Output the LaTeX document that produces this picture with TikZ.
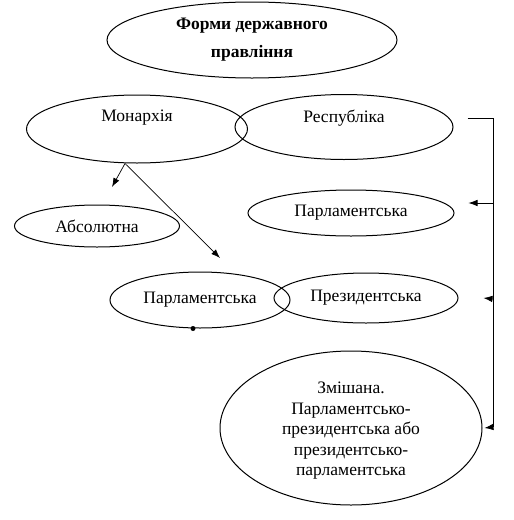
\documentclass[tikz,border=0pt]{standalone}
\usepackage{fontspec}
\setmainfont{Liberation Serif}
\usetikzlibrary{arrows.meta,shapes.geometric}

\begin{document}
\begin{tikzpicture}[x=1pt,y=-1pt,
  every node/.style={font=\fontsize{17.5}{20.5}\selectfont},
  oval/.style={ellipse, draw, line width=1pt, inner sep=0pt},
  link/.style={line width=0.7pt},
  arr/.style={link, -{Latex[length=9pt,width=6.5pt]}}]
\useasboundingbox (0,0) rectangle (514,520);
\node[oval, minimum width=290, minimum height=76, align=center,
  font=\fontsize{17.5}{28}\selectfont\bfseries] (forms) at (252,40) {Форми державного\\правління};
\node[oval, minimum width=221, minimum height=68, label={[yshift=11pt]center:Монархія}] (mon) at (137,129) {};
\node[oval, minimum width=218, minimum height=65, label={[yshift=9pt]center:Республіка}] (resp) at (344,127) {};
\node[oval, minimum width=165, minimum height=42] (abs) at (97,226) {Абсолютна};
\node[oval, minimum width=206, minimum height=46] (parlr) at (351,213) {Парламентська};
\node[oval, minimum width=180, minimum height=56] (parlm) at (200,300) {Парламентська};
\node[oval, minimum width=184, minimum height=50] (pres) at (366,298) {Президентська};
\node[oval, minimum width=262, minimum height=154,
  label={[align=center, yshift=-3pt]center:Змішана.\\Парламентсько-\\президентська або\\президентсько-\\парламентська}] (mixed) at (351,428) {};
\coordinate (monfoot) at ([xshift=-12pt]mon.south);
\coordinate (absend) at (112,187);
\coordinate (parlmend) at (220,258);
\coordinate (railtop) at (493,118);
\coordinate (railbot) at (493,427);
\coordinate (tapparl) at (493,203);
\coordinate (tappres) at (493,299);
\draw[arr] (monfoot) -- (absend);
\draw[arr] (monfoot) -- (parlmend);
\fill ([xshift=-7pt]parlm.south) circle (2.5);
\draw[link] ([xshift=14pt,yshift=9pt]resp.east) -- (railtop) -- (railbot);
\draw[arr] (tapparl) -- ([xshift=14pt,yshift=10pt]parlr.east);
\draw[arr] (tappres) -- ([xshift=25pt]pres.east);
\draw[arr] (railbot) -- ([xshift=2pt]mixed.east);
\end{tikzpicture}
\end{document}
